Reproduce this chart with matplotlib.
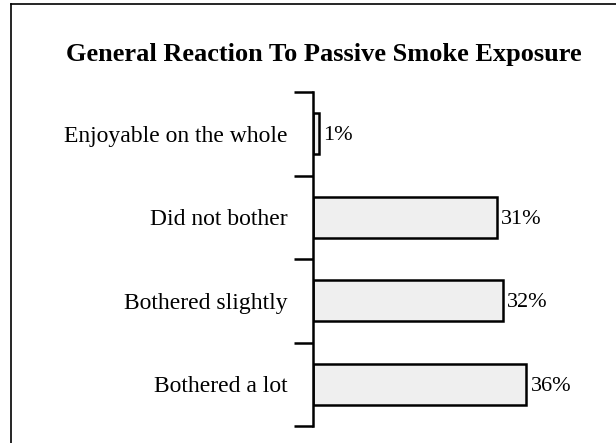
import matplotlib
matplotlib.use("Agg")
import matplotlib.pyplot as plt
from matplotlib.lines import Line2D

categories = ["Enjoyable on the whole", "Did not bother", "Bothered slightly", "Bothered a lot"]
values = [1, 31, 32, 36]
labels = ["1%", "31%", "32%", "36%"]
title = "General Reaction To Passive Smoke Exposure"

plt.rcParams['font.family'] = ['Liberation Serif', 'DejaVu Serif']

fig = plt.figure(figsize=(6.16, 4.43), dpi=100)
ax = fig.add_axes([0.508, 0.038, 0.481, 0.754])

pos = list(range(len(categories)))
bars = ax.barh(pos, values, height=0.49, color="#efefef", edgecolor="black", linewidth=1.8)
for b, t in zip(bars, labels):
    ax.text(b.get_width() + 0.8, b.get_y() + b.get_height() / 2 + 0.02, t,
            va="center", ha="left", fontsize=16)

ax.set_ylim(len(categories) - 0.5, -0.5)
ax.set_xlim(0, 50)
ax.set_yticks(pos)
ax.set_yticklabels(categories, fontsize=17)
ax.set_yticks([i - 0.5 for i in range(len(categories) + 1)], minor=True)
ax.tick_params(axis="y", which="major", length=0, pad=18)
ax.tick_params(axis="y", which="minor", length=14, width=1.8)
ax.set_xticks([])
for s in ["top", "right", "bottom"]:
    ax.spines[s].set_visible(False)
ax.spines["left"].set_linewidth(1.8)

fig.text(0.525, 0.876, title, ha="center", va="center", fontsize=19, fontweight="bold")

# outer frame (top and left edges visible)
fig.add_artist(Line2D([0.018, 1.0], [0.991, 0.991], transform=fig.transFigure, color="black", lw=1.2))
fig.add_artist(Line2D([0.018, 0.018], [0.0, 0.991], transform=fig.transFigure, color="black", lw=1.2))

fig.savefig("out.png", dpi=100)
